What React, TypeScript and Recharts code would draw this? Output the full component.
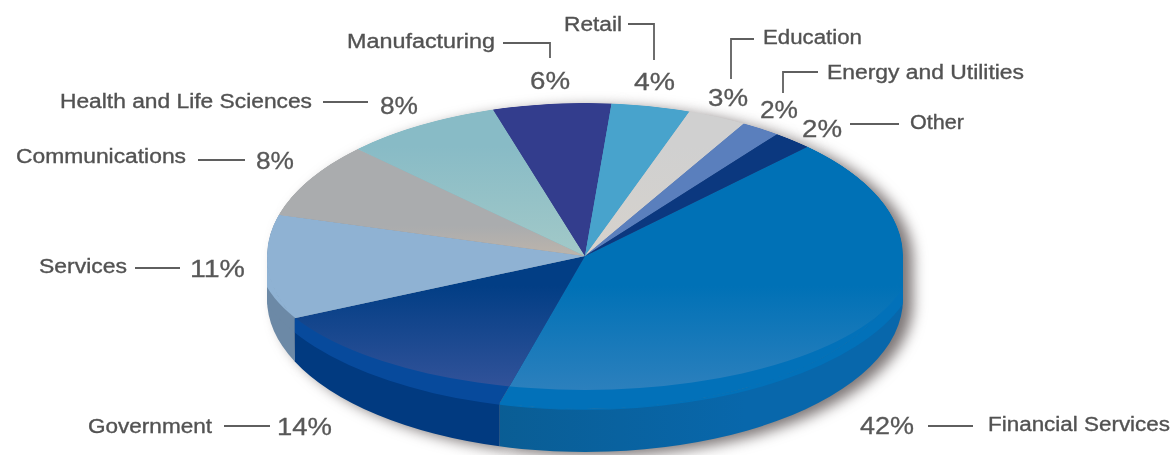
import React from "react";
import { PieChart, Pie } from "recharts";

const categories = ["Financial Services", "Government", "Services", "Communications", "Health and Life Sciences", "Manufacturing", "Retail", "Education", "Energy and Utilities", "Other"];
const shares = [42, 14, 11, 8, 8, 6, 4, 3, 2, 2];
const rows = categories.map((name, i) => ({ name, value: shares[i] }));

const topStart = ["#0071b6", "#023e85", "#8fb2d3", "#aaacae", "#88bbc6", "#333d8d", "#48a3cc", "#d0d0d0", "#5a7fbd", "#0b387f"];
const topEnd = ["#2c80bd", "#33539a", "#8fb2d3", "#bcb4ab", "#a2c9c8", "#333d8d", "#48a3cc", "#d6d2cc", "#5a7fbd", "#0b387f"];
const rimColors = ["#0271b9", "#074a9c", "#6c89a6", "#aaacae", "#88bbc6", "#333d8d", "#48a3cc", "#d0d0d0", "#5a7fbd", "#0b387f"];
const wallLeft = ["#0a5d94", "#013a80", "#6c89a6", "#888", "#888", "#333", "#333", "#888", "#333", "#333"];
const wallRight = ["#0867ab", "#013a80", "#6c89a6", "#888", "#888", "#333", "#333", "#888", "#333", "#333"];

type Box = [number, number, number];
type Layout = { name: Box; pct: Box; leader: string };
// name: [left, right, centreY]; pct: [left, right, centreY]; leader: polyline
const labelLayout: Layout[] = [
  { name: [988, 1170, 424], pct: [860, 914, 425], leader: "928,426 973,426" },
  { name: [88, 212, 426], pct: [277, 332, 426], leader: "224,426 270,426" },
  { name: [39, 127, 266], pct: [190, 245, 268], leader: "135,268 180,268" },
  { name: [16, 186, 156], pct: [256, 294, 160], leader: "198,160 245,160" },
  { name: [60, 312, 101], pct: [380, 418, 105], leader: "323,102 368,102" },
  { name: [347, 495, 41], pct: [530, 570, 80], leader: "503,43 550,43 550,58" },
  { name: [564, 622, 24], pct: [634, 675, 81], leader: "628,24 654,24 654,60" },
  { name: [763, 862, 37], pct: [708, 748, 97], leader: "754,39 731,39 731,79" },
  { name: [827, 1024, 72], pct: [760, 798, 109], leader: "818,72 783,72 783,93" },
  { name: [910, 964, 122], pct: [802, 842, 128], leader: "850,124 899,124" },
];

const WIDTH = 1174;
const HEIGHT = 455;
const CX = 585;
const CY = 256;
const RX = 318;
const SQUASH = 153 / 318;
const DEPTH = 43;
const FONT = "'Liberation Sans', Arial, sans-serif";

const rad = (a: number) => (a * Math.PI) / 180;
const pt = (cx: number, cy: number, rx: number, ry: number, a: number) =>
  [cx + rx * Math.cos(rad(a)), cy - ry * Math.sin(rad(a))] as const;

function wedgePath(cx: number, cy: number, rx: number, ry: number, hi: number, lo: number) {
  const [x0, y0] = pt(cx, cy, rx, ry, hi);
  const [x1, y1] = pt(cx, cy, rx, ry, lo);
  const large = hi - lo > 180 ? 1 : 0;
  return `M${cx},${cy} L${x0},${y0} A${rx} ${ry} 0 ${large} 1 ${x1},${y1} Z`;
}

function wallPath(cx: number, cy: number, rx: number, ry: number, hi: number, lo: number, depth: number) {
  const [x0, y0] = pt(cx, cy, rx, ry, hi);
  const [x1, y1] = pt(cx, cy, rx, ry, lo);
  return `M${x0},${y0} A${rx} ${ry} 0 0 1 ${x1},${y1} L${x1},${y1 + depth} A${rx} ${ry} 0 0 0 ${x0},${y0 + depth} Z`;
}

const sliceInfo = (p: any) => {
  const name = p.payload?.name ?? p.name;
  const i = categories.indexOf(name);
  const hi = Math.max(p.startAngle, p.endAngle);
  const lo = Math.min(p.startAngle, p.endAngle);
  const rx = p.outerRadius as number;
  return { i, hi, lo, rx, ry: rx * SQUASH, cx: p.cx as number, cy: p.cy as number };
};

function ShadowShape(p: any) {
  const { hi, lo, rx, ry, cx, cy } = sliceInfo(p);
  const a = Math.min(hi, 0);
  const b = Math.max(lo, -180);
  return (
    <g style={{ filter: "blur(7px)" }} transform="translate(10,4)">
      <path d={wedgePath(cx, cy, rx, ry, hi, lo)} fill="#5c5454" fillOpacity={0.8} />
      {b < a && <path d={wallPath(cx, cy, rx, ry, a, b, DEPTH)} fill="#5c5454" fillOpacity={0.8} />}
    </g>
  );
}

function WallShape(p: any) {
  const { i, hi, lo, rx, ry, cx, cy } = sliceInfo(p);
  const a = Math.min(hi, 0);
  const b = Math.max(lo, -180);
  if (b >= a) return <g />;
  const id = `wall-${i}`;
  return (
    <g>
      <defs>
        <linearGradient id={id} gradientUnits="userSpaceOnUse" x1={cx - 90} x2={cx + 160} y1={0} y2={0}>
          <stop offset="0" stopColor={wallLeft[i]} />
          <stop offset="1" stopColor={wallRight[i]} />
        </linearGradient>
      </defs>
      <path d={wallPath(cx, cy, rx, ry, a, b, DEPTH)} fill={`url(#${id})`} />
    </g>
  );
}

function TopShape(p: any) {
  const { i, hi, lo, rx, ry, cx, cy } = sliceInfo(p);
  const wedge = wedgePath(cx, cy, rx, ry, hi, lo);
  const a = Math.min(hi, 0);
  const b = Math.max(lo, -180);
  const front = b < a ? wallPath(cx, cy, rx, ry, a, b, DEPTH) : "";
  const body = `${wedge} ${front}`;
  const l = cx - rx;
  const r = cx + rx;
  const rimClip = `M${l},${cy} A${rx} ${ry} 0 0 1 ${r},${cy} L${r},${cy + 48} A${rx * 1.053} ${ry * 1.007} 0 0 1 ${l},${cy + 48} Z`;
  const innerClip = `M${l},${cy} A${rx} ${ry} 0 0 1 ${r},${cy} L${r},${cy + 31} A${rx * 1.028} ${ry * 0.876} 0 0 1 ${l},${cy + 31} Z`;
  const y1 = i < 2 ? cy + 30 : i === 3 ? cy - 30 : cy - 110;
  const y2 = i < 2 ? cy + 134 : cy;
  return (
    <g>
      <defs>
        <clipPath id={`rim-${i}`}><path d={rimClip} /></clipPath>
        <clipPath id={`inner-${i}`}><path d={innerClip} /></clipPath>
        <linearGradient id={`top-${i}`} gradientUnits="userSpaceOnUse" x1={0} x2={0} y1={y1} y2={y2}>
          <stop offset="0" stopColor={topStart[i]} />
          <stop offset="1" stopColor={topEnd[i]} />
        </linearGradient>
      </defs>
      <path d={body} fill={rimColors[i]} clipPath={`url(#rim-${i})`} />
      <path d={body} fill={`url(#top-${i})`} clipPath={`url(#inner-${i})`} />
    </g>
  );
}

function renderLabel(p: any) {
  const name = p.payload?.name ?? p.name;
  const i = categories.indexOf(name);
  const box = labelLayout[i];
  return (
    <g key={name} style={{ filter: "blur(0.4px)" }}>
      <text
        x={box.name[0]}
        y={box.name[2]}
        dominantBaseline="central"
        textAnchor="start"
        fontFamily={FONT}
        fontSize={20}
        fill="#525252"
        stroke="#525252"
        strokeWidth={0.35}
        textLength={box.name[1] - box.name[0]}
        lengthAdjust="spacingAndGlyphs"
      >
        {name}
      </text>
      <text
        x={box.pct[0]}
        y={box.pct[2]}
        dominantBaseline="central"
        textAnchor="start"
        fontFamily={FONT}
        fontSize={24}
        fill="#585858"
        stroke="#585858"
        strokeWidth={0.3}
        textLength={box.pct[1] - box.pct[0]}
        lengthAdjust="spacingAndGlyphs"
      >
        {`${shares[i]}%`}
      </text>
      <polyline points={box.leader} fill="none" stroke="#5f5f5f" strokeWidth={1.8} />
    </g>
  );
}

export default function App() {
  const common = {
    data: rows,
    dataKey: "value",
    nameKey: "name",
    cx: CX,
    cy: CY,
    innerRadius: 0,
    outerRadius: RX,
    startAngle: 45.6,
    endAngle: -314.4,
    paddingAngle: 0,
    stroke: "none",
    isAnimationActive: false,
    labelLine: false,
  };
  return (
    <div style={{ position: "absolute", left: 0, top: 0, width: WIDTH, height: HEIGHT, background: "#fff" }}>
      <PieChart width={WIDTH} height={HEIGHT} margin={{ top: 0, right: 0, bottom: 0, left: 0 }}>
        <Pie {...common} shape={ShadowShape} />
        <Pie {...common} shape={WallShape} />
        <Pie {...common} shape={TopShape} label={renderLabel} />
      </PieChart>
    </div>
  );
}
